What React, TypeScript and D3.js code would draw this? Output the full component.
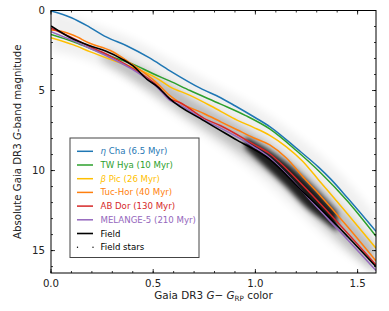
import * as d3 from 'd3';

const W = 389;
const H = 311;
const FONT = 'DejaVu Sans, sans-serif';

// isochrone sequences: Gaia G-G_RP colour vs absolute G magnitude
const etaChaColor = [0, 0.1, 0.19, 0.27, 0.37, 0.48, 0.58, 0.73, 0.83, 0.9, 1.0, 1.07, 1.2, 1.31, 1.37, 1.45, 1.59];
const etaChaMag = [0.03, 0.45, 1.05, 1.65, 2.2, 2.95, 3.75, 4.85, 5.45, 5.95, 6.7, 7.25, 8.6, 9.8, 10.55, 11.7, 13.8];

const twHyaColor = [0, 0.11, 0.19, 0.3, 0.4, 0.5, 0.58, 0.68, 0.83, 0.95, 1.07, 1.2, 1.32, 1.45, 1.59];
const twHyaMag = [1.49, 1.95, 2.36, 2.9, 3.35, 3.95, 4.4, 5.0, 5.85, 6.55, 7.4, 8.75, 10.15, 11.9, 14.1];

const betaPicColor = [0, 0.11, 0.19, 0.3, 0.4, 0.52, 0.58, 0.68, 0.78, 0.83, 0.91, 0.99, 1.07, 1.15, 1.23, 1.31, 1.45, 1.59];
const betaPicMag = [1.7, 2.15, 2.57, 3.1, 3.55, 4.25, 4.75, 5.3, 5.95, 6.3, 6.85, 7.3, 7.8, 8.5, 9.4, 10.6, 12.7, 14.85];

const tucHorColor = [0, 0.05, 0.11, 0.19, 0.29, 0.39, 0.52, 0.58, 0.63, 0.75, 0.83, 0.91, 0.99, 1.07, 1.15, 1.24, 1.32, 1.45, 1.59];
const tucHorMag = [1.22, 1.3, 1.55, 2.05, 2.5, 3.3, 4.55, 5.3, 5.75, 6.45, 6.95, 7.45, 7.95, 8.4, 9.2, 10.5, 11.6, 13.5, 15.65];

const abDorColor = [0, 0.11, 0.19, 0.29, 0.39, 0.52, 0.58, 0.63, 0.75, 0.83, 0.99, 1.07, 1.12, 1.23, 1.32, 1.45, 1.59];
const abDorMag = [1.11, 1.75, 2.26, 2.85, 3.55, 4.7, 5.5, 5.75, 6.75, 7.2, 8.35, 8.95, 9.5, 10.9, 12.1, 13.9, 15.9];

const melangeColor = [0, 0.11, 0.19, 0.29, 0.39, 0.52, 0.58, 0.63, 0.75, 0.83, 0.99, 1.07, 1.15, 1.28, 1.45, 1.59];
const melangeMag = [1.32, 1.9, 2.36, 2.95, 3.62, 4.8, 5.6, 5.9, 6.85, 7.35, 8.5, 9.2, 10.2, 12.0, 14.3, 16.25];

const fieldColor = [0, 0.11, 0.19, 0.27, 0.35, 0.4, 0.47, 0.52, 0.58, 0.75, 0.91, 1.07, 1.23, 1.32, 1.45, 1.59];
const fieldMag = [0.97, 1.8, 2.2, 2.55, 3.05, 3.45, 4.3, 4.75, 5.5, 6.9, 8.1, 9.3, 11.3, 12.4, 14.1, 16.0];

// field star density: colour, bright edge, faint edge (three levels)
const hazeColor = [0, 0.2, 0.4, 0.6, 0.8, 1.0, 1.2, 1.4, 1.59];
const hazeTop = [0, 0.8, 1.8, 3.2, 4.6, 6.0, 7.8, 10.0, 12.8];
const hazeBottom = [2.5, 3.2, 4.6, 6.5, 8.3, 10.2, 12.5, 14.8, 16.4];

const bandColor = [0.25, 0.5, 0.7, 0.9, 1.1, 1.3, 1.45, 1.59];
const bandTop = [2.4, 4.0, 5.6, 7.0, 8.6, 10.8, 12.8, 14.8];
const bandBottom = [3.1, 5.1, 6.9, 8.6, 10.5, 13.0, 14.8, 16.4];

const coreColor = [0.95, 1.05, 1.15, 1.25, 1.32, 1.4];
const coreTop = [7.9, 8.6, 9.5, 10.6, 11.5, 12.6];
const coreBottom = [8.6, 9.8, 11.0, 12.3, 13.0, 13.8];

const groups = [
  { pre: '', it: 'η', name: ' Cha (6.5 Myr)', color: '#1f77b4', xs: etaChaColor, ys: etaChaMag },
  { pre: 'TW Hya (10 Myr)', it: '', name: '', color: '#2ca02c', xs: twHyaColor, ys: twHyaMag },
  { pre: '', it: 'β', name: ' Pic (26 Myr)', color: '#ffbf00', xs: betaPicColor, ys: betaPicMag },
  { pre: 'Tuc-Hor (40 Myr)', it: '', name: '', color: '#ff7f0e', xs: tucHorColor, ys: tucHorMag },
  { pre: 'AB Dor (130 Myr)', it: '', name: '', color: '#d62728', xs: abDorColor, ys: abDorMag },
  { pre: 'MELANGE-5 (210 Myr)', it: '', name: '', color: '#9467bd', xs: melangeColor, ys: melangeMag },
];

const xTicks = [0, 0.5, 1.0, 1.5];
const yTicks = [0, 5, 10, 15];

export default function App() {
  const left = 51;
  const right = 376;
  const top = 10.5;
  const bottom = 273;

  const x = d3.scaleLinear().domain([0, 1.59]).range([left, right]);
  const y = d3.scaleLinear().domain([0, 16.4]).range([top, bottom]);

  const line = (xs: number[], ys: number[]) =>
    d3.line<number>()
      .x((_d, i) => x(xs[i]))
      .y((_d, i) => y(ys[i]))
      .curve(d3.curveMonotoneX)(xs) || '';

  const band = (xs: number[], t: number[], b: number[]) =>
    d3.area<number>()
      .x((_d, i) => x(xs[i]))
      .y0((_d, i) => y(t[i]))
      .y1((_d, i) => y(b[i]))
      .curve(d3.curveMonotoneX)(xs) || '';

  const xMinor = d3.range(0, 1.591, 0.1);
  const yMinor = d3.range(0, 16.4, 1);

  const legX = 70;
  const legY = 138;
  const rowH = 13.7;
  const legFont = 8.6;

  return (
    <svg width={W} height={H} style={{ position: 'absolute', left: 0, top: 0 }} fontFamily={FONT}>
      <defs>
        <clipPath id="plot">
          <rect x={left} y={top} width={right - left} height={bottom - top} />
        </clipPath>
        <filter id="soft" x="-20%" y="-20%" width="140%" height="140%">
          <feGaussianBlur stdDeviation="4" />
        </filter>
        <filter id="softer" x="-20%" y="-20%" width="140%" height="140%">
          <feGaussianBlur stdDeviation="2.5" />
        </filter>
      </defs>
      <rect width={W} height={H} fill="white" />

      <g clipPath="url(#plot)">
        <path d={band(hazeColor, hazeTop, hazeBottom)} fill="#000" opacity={0.06} filter="url(#soft)" />
        <path d={band(bandColor, bandTop, bandBottom)} fill="#000" opacity={0.22} filter="url(#soft)" />
        <path d={band(coreColor, coreTop, coreBottom)} fill="#000" opacity={0.85} filter="url(#softer)" />
        {groups.map((g) => (
          <path key={g.color} d={line(g.xs, g.ys)} fill="none" stroke={g.color} strokeWidth={1.5} />
        ))}
        <path d={line(fieldColor, fieldMag)} fill="none" stroke="#000" strokeWidth={1.6} />
      </g>

      {/* ticks on all sides, pointing in */}
      <g stroke="#000" strokeWidth={0.8}>
        {xMinor.map((t) => (
          <g key={'xm' + t}>
            <line x1={x(t)} x2={x(t)} y1={bottom} y2={bottom - 2} />
            <line x1={x(t)} x2={x(t)} y1={top} y2={top + 2} />
          </g>
        ))}
        {xTicks.map((t) => (
          <g key={'xM' + t}>
            <line x1={x(t)} x2={x(t)} y1={bottom} y2={bottom - 4} />
            <line x1={x(t)} x2={x(t)} y1={top} y2={top + 4} />
          </g>
        ))}
        {yMinor.map((t) => (
          <g key={'ym' + t}>
            <line x1={left} x2={left + 2} y1={y(t)} y2={y(t)} />
            <line x1={right} x2={right - 2} y1={y(t)} y2={y(t)} />
          </g>
        ))}
        {yTicks.map((t) => (
          <g key={'yM' + t}>
            <line x1={left} x2={left + 4} y1={y(t)} y2={y(t)} />
            <line x1={right} x2={right - 4} y1={y(t)} y2={y(t)} />
          </g>
        ))}
      </g>
      <rect x={left} y={top} width={right - left} height={bottom - top} fill="none" stroke="#000" strokeWidth={1} />

      <g fontSize={10.2} fill="#222">
        {xTicks.map((t) => (
          <text key={'xl' + t} x={x(t)} y={286.5} textAnchor="middle">{d3.format('.1f')(t)}</text>
        ))}
        {yTicks.map((t) => (
          <text key={'yl' + t} x={45} y={y(t) + 3.6} textAnchor="end">{t}</text>
        ))}
      </g>

      <text x={(left + right) / 2} y={298.5} textAnchor="middle" fontSize={10.4} fill="#222">
        Gaia DR3 <tspan fontStyle="italic">G</tspan>− <tspan fontStyle="italic">G</tspan>
        <tspan fontSize={7.2} dy={2}>RP</tspan>
        <tspan dy={-2}> color</tspan>
      </text>
      <text
        transform={`translate(21, ${(top + bottom) / 2}) rotate(-90)`}
        textAnchor="middle"
        fontSize={10.2}
        fill="#222"
      >
        Absolute Gaia DR3 <tspan fontStyle="italic">G</tspan>-band magnitude
      </text>

      {/* legend */}
      <rect x={legX} y={legY} width={129} height={119.5} fill="white" fillOpacity={0.85} stroke="#444" strokeWidth={1} />
      {groups.map((g, i) => {
        const ry = legY + 13.3 + i * rowH;
        return (
          <g key={'leg' + g.color}>
            <line x1={legX + 7} x2={legX + 23} y1={ry} y2={ry} stroke={g.color} strokeWidth={1.5} />
            <text x={legX + 30.5} y={ry + 3} fontSize={legFont} fill={g.color}>
              {g.pre}
              {g.it ? <tspan fontStyle="italic">{g.it}</tspan> : null}
              {g.name}
            </text>
          </g>
        );
      })}
      <line x1={legX + 7} x2={legX + 23} y1={legY + 13.3 + 6 * rowH} y2={legY + 13.3 + 6 * rowH} stroke="#000" strokeWidth={1.6} />
      <text x={legX + 30.5} y={legY + 13.3 + 6 * rowH + 3} fontSize={legFont} fill="#000">Field</text>
      <circle cx={legX + 7.5} cy={legY + 13.3 + 7 * rowH} r={0.7} fill="#000" />
      <circle cx={legX + 23} cy={legY + 13.3 + 7 * rowH} r={0.7} fill="#000" />
      <text x={legX + 30.5} y={legY + 13.3 + 7 * rowH + 3} fontSize={legFont} fill="#000">Field stars</text>
    </svg>
  );
}
